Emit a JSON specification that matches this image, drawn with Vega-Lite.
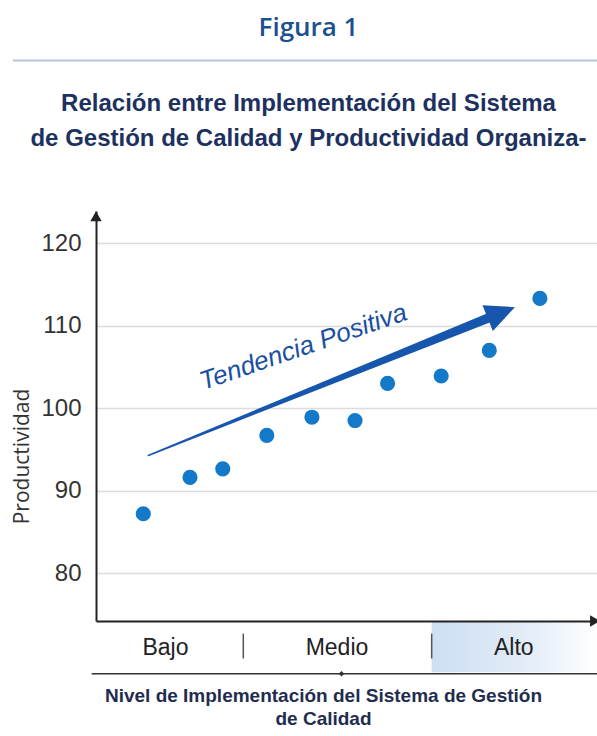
{
  "$schema": "https://vega.github.io/schema/vega-lite/v6.json",
  "autosize": {"type": "none"},
  "padding": {"left": 96, "top": 211, "right": 0, "bottom": 115},
  "width": 501,
  "height": 410,
  "background": "white",
  "config": {"font": "Liberation Sans", "view": {"stroke": null}},
  "title": {
    "text": "Figura 1",
    "subtitle": ["Relación entre Implementación del Sistema", "de Gestión de Calidad y Productividad Organiza-"],
    "anchor": "middle",
    "frame": "group",
    "dx": -38,
    "offset": -92,
    "font": "Open Sans",
    "fontSize": 26,
    "fontWeight": 600,
    "color": "#1c4f8f",
    "subtitleFont": "Liberation Sans",
    "subtitleFontSize": 24,
    "subtitleFontWeight": "bold",
    "subtitleColor": "#1d3160",
    "subtitleLineHeight": 35,
    "subtitlePadding": 51
  },
  "datasets": {
    "points": [
      {"x": 0.944, "y": 87.2},
      {"x": 1.876, "y": 91.6},
      {"x": 2.53, "y": 92.65},
      {"x": 3.41, "y": 96.7},
      {"x": 4.31, "y": 98.9},
      {"x": 5.17, "y": 98.5},
      {"x": 5.82, "y": 103.0},
      {"x": 6.89, "y": 103.9},
      {"x": 7.85, "y": 107.0},
      {"x": 8.86, "y": 113.3}
    ],
    "trend": [
      {"x": 1.044, "y": 94.27, "w": 1.5},
      {"x": 7.874, "y": 111.04, "w": 9.5}
    ],
    "head": [{"x": 8.09, "y": 111.58}],
    "label": [{"x": 4.14, "y": 107.4, "t": "Tendencia Positiva"}],
    "band": [{"x": 6.7, "x2": 10, "y": 74.2, "y2": 68.0}],
    "topline": [{"x": -1.66, "x2": 10, "y": 142.15}],
    "bottomline": [{"x": -0.087, "x2": 10, "y": 67.81}],
    "diamond": [{"x": 4.9, "y": 67.81}],
    "seps": [{"x": 2.94, "y": 72.67, "y2": 69.66}, {"x": 6.7, "y": 72.67, "y2": 69.66}],
    "yarrow": [{"x": 0, "y": 123.26}],
    "xarrow": [{"x": 9.96, "y": 74.2}]
  },
  "encoding": {
    "x": {
      "field": "x", "type": "quantitative",
      "scale": {"domain": [0, 10], "nice": false, "zero": false},
      "axis": {
        "zindex": 2,
        "values": [1.377, 4.8, 8.33],
        "labelExpr": "datum.value < 3 ? 'Bajo' : (datum.value < 6 ? 'Medio' : 'Alto')",
        "grid": false, "ticks": false,
        "domainColor": "#222", "domainWidth": 2,
        "labelFont": "Liberation Sans", "labelFontSize": 23, "labelColor": "#222", "labelPadding": 15,
        "title": ["Nivel de Implementación del Sistema de Gestión", "de Calidad"],
        "titleFont": "Liberation Sans", "titleFontSize": 19, "titleFontWeight": "bold",
        "titleColor": "#1f2d4f", "titleLineHeight": 23, "titlePadding": 27,
        "titleX": 227, "titleAlign": "center", "titleAnchor": "middle"
      }
    },
    "y": {
      "field": "y", "type": "quantitative",
      "scale": {"domain": [74.2, 123.9], "nice": false, "zero": false},
      "axis": {
        "values": [80, 90, 100, 110, 120],
        "grid": true, "gridColor": "#dcdcdc", "gridWidth": 1.5,
        "ticks": false,
        "domainColor": "#222", "domainWidth": 2,
        "labelFont": "Liberation Sans", "labelFontSize": 24, "labelColor": "#333", "labelPadding": 15,
        "title": "Productividad",
        "titleFont": "Open Sans", "titleFontSize": 21, "titleFontWeight": "normal",
        "titleColor": "#333", "titlePadding": 8, "titleY": 245, "titleAlign": "center"
      }
    }
  },
  "layer": [
    {
      "data": {"name": "band"},
      "mark": {"type": "rect", "clip": false, "fill": {"gradient": "linear", "x1": 0, "x2": 1, "y1": 0, "y2": 0, "stops": [{"offset": 0, "color": "#cddff3"}, {"offset": 0.6, "color": "#e4edf8"}, {"offset": 1, "color": "#ffffff"}]}},
      "encoding": {"x2": {"field": "x2"}, "y2": {"field": "y2"}}
    },
    {
      "data": {"name": "topline"},
      "mark": {"type": "rule", "clip": false, "color": "#b7c6dc", "strokeWidth": 2},
      "encoding": {"x2": {"field": "x2"}}
    },
    {
      "data": {"name": "bottomline"},
      "mark": {"type": "rule", "clip": false, "color": "#333333", "strokeWidth": 1.5},
      "encoding": {"x2": {"field": "x2"}}
    },
    {
      "data": {"name": "diamond"},
      "mark": {"type": "point", "shape": "diamond", "filled": true, "clip": false, "color": "#333333", "size": 30, "opacity": 1}
    },
    {
      "data": {"name": "seps"},
      "mark": {"type": "rule", "clip": false, "color": "#555555", "strokeWidth": 1.5},
      "encoding": {"y2": {"field": "y2"}}
    },
    {
      "data": {"name": "yarrow"},
      "mark": {"type": "point", "shape": "triangle-up", "filled": true, "clip": false, "color": "#222", "size": 130, "opacity": 1}
    },
    {
      "data": {"name": "xarrow"},
      "mark": {"type": "point", "shape": "triangle-right", "filled": true, "clip": false, "color": "#222", "size": 130, "opacity": 1}
    },
    {
      "data": {"name": "points"},
      "mark": {"type": "circle", "color": "#1479c9", "size": 230, "opacity": 1, "clip": false}
    },
    {
      "data": {"name": "trend"},
      "mark": {"type": "trail", "color": "#1656ad", "clip": false},
      "encoding": {"size": {"field": "w", "type": "quantitative", "scale": null, "legend": null}}
    },
    {
      "data": {"name": "head"},
      "mark": {"type": "point", "shape": "M0,-1L0.94,1L-0.94,1Z", "filled": true, "color": "#1656ad", "size": 864, "angle": 68, "opacity": 1, "clip": false}
    },
    {
      "data": {"name": "label"},
      "mark": {"type": "text", "font": "Liberation Sans", "fontSize": 26, "fontStyle": "italic", "color": "#1a4fa0", "angle": -19, "align": "center", "baseline": "middle", "clip": false},
      "encoding": {"text": {"field": "t"}}
    }
  ]
}
